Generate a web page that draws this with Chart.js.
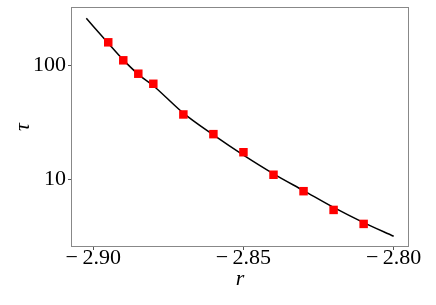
<!DOCTYPE html>
<html>
<head>
<meta charset="utf-8">
<script src="https://cdn.jsdelivr.net/npm/chart.js@4.4.1/dist/chart.umd.min.js"></script>
<style>
  html, body { margin: 0; padding: 0; background: #fff; }
</style>
</head>
<body>
<canvas id="chart" width="436" height="305"></canvas>
<script>
// measured points (r, tau)
const pointR = [-2.895, -2.89, -2.885, -2.88, -2.87, -2.86, -2.85, -2.84, -2.83, -2.82, -2.81];
const pointTau = [158, 110, 84, 68.6, 37, 24.9, 17.3, 11.0, 7.9, 5.42, 4.09];

// fitted curve
const curveR = [-2.9023, -2.895, -2.89, -2.885, -2.88, -2.87, -2.86, -2.85, -2.84, -2.83, -2.82, -2.81, -2.80];
const curveTau = [256, 155, 111, 83, 66, 38, 24.5, 16.3, 11.2, 8.0, 5.7, 4.2, 3.19];

const xTicks = [-2.90, -2.85, -2.80];
const yTicks = [10, 100];

const serif = 'Liberation Serif';

const frame = {
  id: 'frame',
  afterDraw(chart) {
    const { ctx, chartArea: a } = chart;
    ctx.save();
    ctx.strokeStyle = '#888';
    ctx.lineWidth = 1;
    ctx.strokeRect(a.left + 0.5, a.top + 0.5, a.right - a.left - 1, a.bottom - a.top - 1);
    ctx.restore();
  },
};

const ctx = document.getElementById('chart').getContext('2d');
new Chart(ctx, {
  type: 'scatter',
  data: {
    datasets: [
      {
        data: curveR.map((r, i) => ({ x: r, y: curveTau[i] })),
        showLine: true,
        borderColor: '#000',
        borderWidth: 1.5,
        pointRadius: 0,
        cubicInterpolationMode: 'monotone',
        order: 2,
      },
      {
        data: pointR.map((r, i) => ({ x: r, y: pointTau[i] })),
        pointStyle: 'rect',
        pointRadius: 6,
        backgroundColor: '#ff0000',
        borderColor: '#ff0000',
        borderWidth: 0,
        order: 1,
      },
    ],
  },
  options: {
    responsive: false,
    animation: false,
    layout: { padding: { left: 0, right: 27, top: 7, bottom: 0 } },
    plugins: {
      legend: { display: false },
      tooltip: { enabled: false },
    },
    scales: {
      x: {
        type: 'linear',
        min: -2.9074,
        max: -2.7949,
        afterBuildTicks: (axis) => { axis.ticks = xTicks.map((v) => ({ value: v })); },
        afterFit: (axis) => {
          axis.height = 58;
          axis.paddingLeft = 0;
          axis.paddingRight = 0;
        },
        grid: { drawOnChartArea: false, tickLength: 3, color: '#555' },
        border: { display: false },
        ticks: {
          color: '#000',
          padding: -5,
          maxRotation: 0,
          font: { family: serif, size: 22 },
          callback: (v) => (v < 0 ? '\u2212\u2009' : '') + Math.abs(v).toFixed(2),
        },
        title: {
          display: true,
          text: 'r',
          color: '#000',
          padding: { top: 0, bottom: 13 },
          font: { family: serif, size: 22, style: 'italic' },
        },
      },
      y: {
        type: 'logarithmic',
        min: 2.57,
        max: 321.6,
        afterBuildTicks: (axis) => { axis.ticks = yTicks.map((v) => ({ value: v })); },
        afterFit: (axis) => {
          axis.width = 71;
          axis.paddingTop = 0;
          axis.paddingBottom = 0;
        },
        grid: { drawOnChartArea: false, tickLength: 3, color: '#555' },
        border: { display: false },
        ticks: {
          color: '#000',
          padding: 2,
          font: { family: serif, size: 22 },
          callback: (v) => String(v),
        },
        title: {
          display: true,
          text: '\u03c4',
          color: '#000',
          padding: { top: 10, bottom: 0 },
          font: { family: serif, size: 22, style: 'italic' },
        },
      },
    },
  },
  plugins: [frame],
});
</script>
</body>
</html>
